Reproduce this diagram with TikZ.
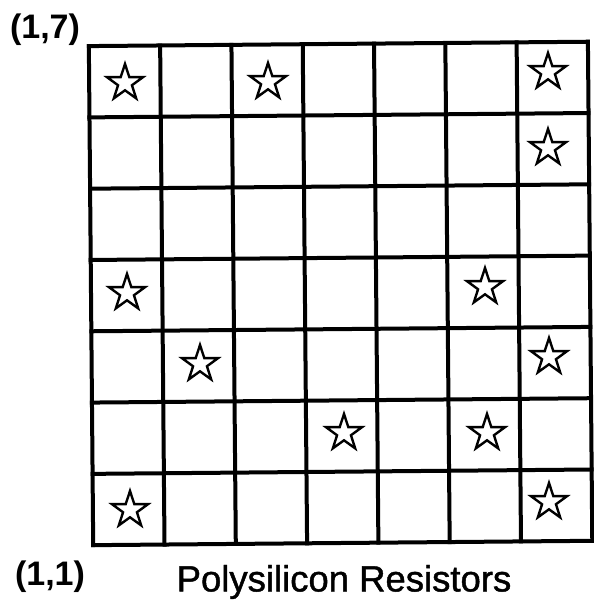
\documentclass[tikz,border=0pt]{standalone}
\usepackage{fontspec}
\setmainfont{Liberation Sans}
\newfontfamily\captionfont[FakeBold=1.2]{Liberation Sans}
\usetikzlibrary{shapes.geometric}
\begin{document}
\begin{tikzpicture}[x=1pt,y=1pt,
  gridline/.style={line width=4pt, line cap=rect},
  resistor/.style={star, star points=5, star point ratio=2.6, draw, line width=2.4pt,
    inner sep=0pt, minimum size=38pt, shape border rotate=0},
  corner/.style={font=\bfseries\fontsize{34}{38}\selectfont, inner sep=0pt},
  caption/.style={font=\captionfont\fontsize{36.5}{40}\selectfont, inner sep=0pt}]
\useasboundingbox (0,0) rectangle (593,609);
% 7 x 7 array of cells, slightly tilted
\begin{scope}[rotate around={0.5:(341,316)}]
  \foreach \i in {0,...,7} {
    \draw[gridline] (91+71.3*\i,66) -- (91+71.3*\i,565);
    \draw[gridline] (91,66+71.3*\i) -- (590,66+71.3*\i);
  }
\end{scope}
% resistor locations
\node[resistor] (r17) at (125,526) {};
\node[resistor] (r37) at (268,527) {};
\node[resistor] (r77) at (548,537) {};
\node[resistor] (r76) at (548,461) {};
\node[resistor] (r14) at (127,316) {};
\node[resistor] (r64) at (485,322) {};
\node[resistor] (r23) at (200,245) {};
\node[resistor] (r73) at (549,252) {};
\node[resistor] (r42) at (344,176) {};
\node[resistor] (r62) at (487,176) {};
\node[resistor] (r11) at (130,99) {};
\node[resistor] (r71) at (549,107) {};
% labels
\node[corner] (top) at (45,579) {(1,7)};
\node[corner] (bottom) at (50,32) {(1,1)};
\node[caption] (title) at (344,27) {Polysilicon Resistors};
\end{tikzpicture}
\end{document}
